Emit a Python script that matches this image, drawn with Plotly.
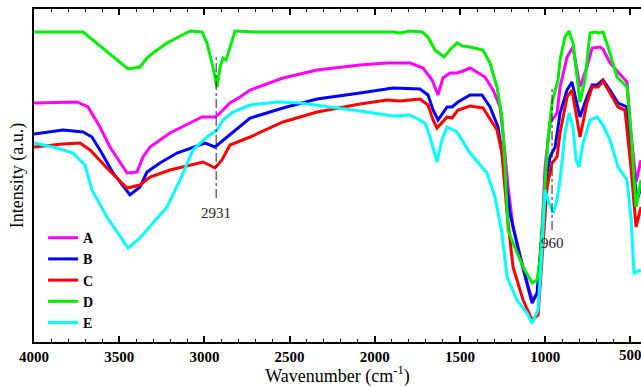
import plotly.graph_objects as go

# Wavenumber (cm-1) / intensity (a.u.)
wn_A = [4000, 3748, 3683, 3613, 3554, 3454, 3396, 3378, 3360, 3319, 3202, 3085, 3014, 2938, 2908, 2850, 2791, 2732, 2539, 2339, 2146, 2087, 1928, 1793, 1717, 1664, 1629, 1600, 1559, 1518, 1482, 1441, 1353, 1306, 1265, 1248, 1218, 1189, 1130, 1089, 1072, 1042, 1019, 1001, 972, 931, 913, 872, 837, 796, 755, 725, 679, 661, 620, 573, 520, 497, 467, 438]
int_A = [239, 240, 235, 215, 195, 169, 170, 177, 185, 195, 209, 219, 225, 225, 229, 239, 245, 252, 264, 272, 276, 277, 279, 279, 274, 262, 247, 264, 269, 269, 271, 274, 265, 252, 235, 209, 155, 115, 75, 49, 42, 49, 109, 175, 219, 229, 255, 285, 295, 255, 275, 294, 295, 293, 279, 270, 260, 209, 160, 182]

wn_B = [4000, 3830, 3712, 3660, 3613, 3536, 3437, 3378, 3337, 3261, 3161, 3067, 2996, 2938, 2867, 2809, 2732, 2539, 2339, 2087, 1893, 1735, 1688, 1658, 1629, 1576, 1547, 1512, 1441, 1371, 1324, 1277, 1248, 1207, 1148, 1077, 1048, 1019, 989, 972, 942, 913, 872, 843, 796, 755, 725, 696, 661, 620, 573, 520, 497, 461, 438]
int_B = [208, 212, 210, 205, 192, 169, 147, 155, 170, 179, 189, 195, 199, 195, 205, 214, 224, 234, 243, 249, 254, 253, 247, 232, 222, 235, 235, 240, 247, 247, 235, 215, 182, 129, 85, 39, 49, 109, 169, 185, 195, 229, 252, 260, 225, 245, 257, 257, 262, 252, 239, 235, 192, 142, 155]

wn_C = [4000, 3830, 3730, 3671, 3572, 3454, 3378, 3319, 3202, 3085, 3008, 2938, 2897, 2850, 2732, 2539, 2339, 2087, 1928, 1852, 1735, 1688, 1658, 1635, 1576, 1547, 1512, 1441, 1365, 1283, 1254, 1224, 1189, 1130, 1077, 1042, 1013, 989, 960, 931, 913, 872, 843, 796, 755, 725, 690, 661, 620, 573, 532, 497, 467, 438]
int_C = [195, 198, 199, 192, 174, 154, 157, 165, 172, 177, 180, 174, 182, 197, 205, 220, 230, 238, 242, 241, 243, 237, 222, 214, 225, 224, 232, 236, 234, 212, 189, 129, 75, 42, 22, 27, 92, 155, 179, 185, 209, 245, 252, 205, 239, 255, 255, 261, 249, 235, 232, 175, 115, 135]

wn_D = [4000, 3712, 3448, 3378, 3337, 3302, 3219, 3085, 3014, 2985, 2950, 2926, 2908, 2891, 2873, 2850, 2820, 2700, 2400, 2100, 1893, 1852, 1793, 1723, 1688, 1647, 1594, 1559, 1518, 1488, 1441, 1365, 1324, 1283, 1254, 1236, 1218, 1189, 1130, 1077, 1048, 1031, 1013, 984, 960, 925, 913, 884, 860, 837, 796, 767, 737, 708, 684, 661, 631, 579, 520, 497, 467, 438]
int_D = [310, 310, 273, 275, 284, 289, 299, 311, 310, 299, 275, 255, 275, 284, 282, 295, 311, 310, 310, 310, 310, 309, 311, 310, 305, 292, 285, 292, 299, 296, 295, 292, 279, 255, 225, 175, 112, 99, 75, 59, 62, 82, 125, 202, 239, 262, 282, 305, 311, 299, 240, 262, 309, 310, 309, 310, 295, 265, 255, 209, 135, 162]

wn_E = [4000, 3865, 3771, 3701, 3660, 3572, 3448, 3378, 3302, 3219, 3143, 3067, 2985, 2926, 2891, 2832, 2732, 2574, 2439, 2245, 2087, 1970, 1893, 1793, 1705, 1676, 1635, 1606, 1576, 1518, 1441, 1342, 1295, 1254, 1224, 1166, 1107, 1077, 1042, 1019, 1001, 984, 954, 931, 913, 884, 860, 837, 819, 802, 778, 737, 696, 661, 620, 573, 520, 497, 479, 438]
int_E = [199, 194, 189, 177, 152, 125, 94, 104, 119, 135, 162, 192, 205, 212, 222, 230, 237, 240, 239, 235, 231, 228, 226, 227, 219, 205, 180, 202, 215, 210, 189, 169, 145, 109, 65, 42, 29, 19, 32, 92, 152, 142, 129, 142, 162, 209, 229, 215, 182, 175, 199, 222, 225, 217, 202, 175, 162, 125, 69, 72]

names = ["A", "B", "C", "D", "E"]
colors = ["#FF00FF", "#0000FF", "#FF0000", "#00EE00", "#00FFFF"]

# peak markers: position, line top, line bottom, label y
peak_wn = [2931, 960]
peak_top = [287, 254]
peak_bottom = [144, 112]
peak_label_y = [129, 99]
peak_labels = ["2931", "960"]

x_range = [4000, 438]
y_range = [0, 333]
x_ticks = [4000, 3500, 3000, 2500, 2000, 1500, 1000, 500]
edge_tick = 500  # label partly clipped at the right edge in the reference

tick_font = dict(family="Liberation Serif", size=15, color="black", weight="bold")

fig = go.Figure()
series = [(wn_A, int_A), (wn_B, int_B), (wn_C, int_C), (wn_D, int_D), (wn_E, int_E)]
for (x, y), n, c in zip(series, names, colors):
    fig.add_trace(go.Scatter(x=x, y=y, mode="lines", name=n,
                             line=dict(color=c, width=3)))

for w, t, b, ly, lab in zip(peak_wn, peak_top, peak_bottom, peak_label_y, peak_labels):
    fig.add_shape(type="line", x0=w, x1=w, y0=b, y1=t, xref="x", yref="y",
                  line=dict(color="#222222", width=1, dash="dashdot"))
    fig.add_annotation(x=w, y=ly, text=lab, showarrow=False, xref="x", yref="y",
                       font=dict(family="Liberation Serif", size=15, color="#222222"))

fig.add_annotation(x=edge_tick, y=0, xref="x", yref="paper", yanchor="top", yshift=-3,
                   text=str(edge_tick), showarrow=False, font=tick_font)

fig.update_layout(
    width=641, height=387,
    margin=dict(l=34, r=0, t=9, b=45),
    paper_bgcolor="white", plot_bgcolor="white",
    showlegend=True,
    legend=dict(x=0.015, y=0.36, xanchor="left", yanchor="top",
                bgcolor="rgba(0,0,0,0)", tracegroupgap=0,
                font=dict(family="Liberation Serif", size=14, color="black", weight="bold"),
                itemwidth=30),
    font=dict(family="Liberation Serif", color="black"),
)
fig.update_xaxes(range=x_range, tickmode="array", tickvals=x_ticks,
                 showgrid=False, zeroline=False, showline=True, linecolor="black", linewidth=2,
                 ticks="inside", ticklen=6, tickwidth=1.5, tickcolor="black", mirror="ticks",
                 minor=dict(ticks="inside", ticklen=3, dtick=100, tickwidth=1, tickcolor="black", showgrid=False),
                 tickfont=tick_font,
                 title=dict(text="Wavenumber (cm<sup>-1</sup>)", standoff=6,
                            font=dict(family="Liberation Serif", size=18, color="black")))
fig.update_yaxes(range=y_range, showticklabels=False, ticks="",
                 showgrid=False, zeroline=False, showline=True, linecolor="black", linewidth=2,
                 title=dict(text="Intensity (a.u.)", standoff=4,
                            font=dict(family="Liberation Serif", size=18, color="black")))

fig.write_html("out.html")
